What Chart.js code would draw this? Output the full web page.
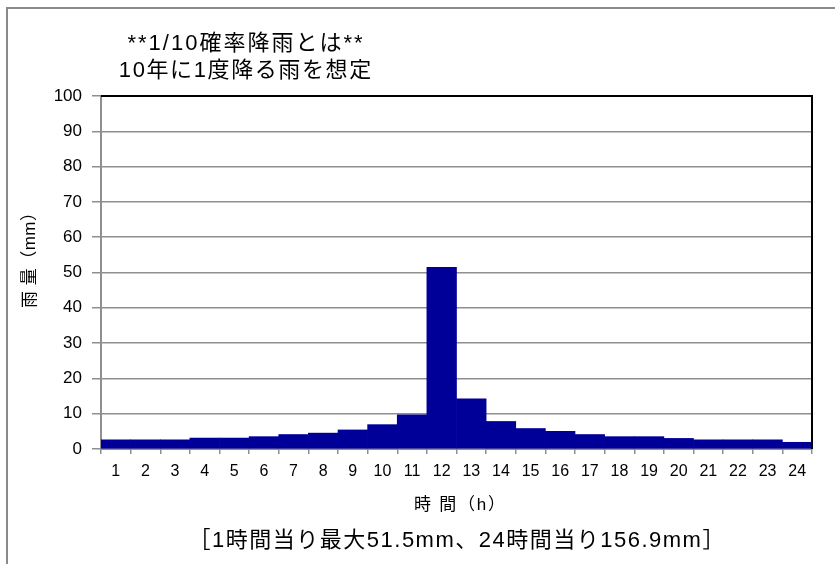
<!DOCTYPE html>
<html lang="ja">
<head>
<meta charset="utf-8">
<title>1/10確率降雨</title>
<script src="https://cdn.jsdelivr.net/npm/chart.js@4/dist/chart.umd.min.js"></script>
<style>
  html, body { margin: 0; padding: 0; background: #ffffff; }
  #wrap { width: 835px; height: 564px; }
</style>
</head>
<body>
<div id="wrap"><canvas id="rain" width="835" height="564"></canvas></div>
<script>
// Hourly rainfall of the 1-in-10-year design storm (mm per hour)
const hours = ['1','2','3','4','5','6','7','8','9','10','11','12',
               '13','14','15','16','17','18','19','20','21','22','23','24'];
const rainfall = [2.6, 2.6, 2.6, 3.1, 3.1, 3.5, 4.1, 4.5, 5.4, 6.9, 9.7, 51.5,
                  14.2, 7.8, 5.8, 5.0, 4.1, 3.5, 3.5, 3.0, 2.6, 2.6, 2.6, 1.9];
const yTicks = [0, 10, 20, 30, 40, 50, 60, 70, 80, 90, 100];

const titleLines = ['**1/10確率降雨とは**', '10年に1度降る雨を想定'];
const yTitle = '雨 量（mm）';
const xTitle = '時 間（h）';
const caption = '［1時間当り最大51.5mm、24時間当り156.9mm］';

const FONT = '"Liberation Sans", "Noto Sans CJK JP", sans-serif';
const GRID = '#8f8f8f';

// Draws text centred at (x, y) with optional extra spacing between glyphs
function spacedText(ctx, text, x, y, font, spacing) {
  ctx.font = font;
  if ('letterSpacing' in ctx) {
    ctx.letterSpacing = spacing + 'px';
    const w = ctx.measureText(text).width;
    ctx.textAlign = 'left';
    ctx.fillText(text, x - (w - spacing) / 2, y);
    ctx.letterSpacing = '0px';
    ctx.textAlign = 'center';
  } else {
    ctx.fillText(text, x, y);
  }
}

// Frame, plot border and the text blocks around the plot
const decorations = {
  id: 'decorations',
  beforeDraw(chart) {
    const ctx = chart.ctx;
    ctx.save();
    ctx.fillStyle = '#ffffff';
    ctx.fillRect(0, 0, chart.width, chart.height);
    ctx.strokeStyle = '#8a8a8a';
    ctx.lineWidth = 2;
    ctx.beginPath();
    ctx.moveTo(7, chart.height);
    ctx.lineTo(7, 8);
    ctx.lineTo(chart.width, 8);
    ctx.stroke();
    ctx.restore();
  },
  afterDraw(chart) {
    const ctx = chart.ctx;
    const a = chart.chartArea;
    const cx = (a.left + a.right) / 2;
    ctx.save();
    // black top and right edges of the plot
    ctx.strokeStyle = '#000000';
    ctx.lineWidth = 2;
    ctx.beginPath();
    ctx.moveTo(a.left, a.top);
    ctx.lineTo(a.right, a.top);
    ctx.lineTo(a.right, a.bottom);
    ctx.stroke();

    ctx.fillStyle = '#000000';
    ctx.textAlign = 'center';
    ctx.textBaseline = 'middle';

    spacedText(ctx, titleLines[0], 245, 44, '22px ' + FONT, 2);
    spacedText(ctx, titleLines[1], 245, 71, '22px ' + FONT, 1.6);

    spacedText(ctx, xTitle, cx + 3, 505, '17px ' + FONT, 1.8);

    spacedText(ctx, caption, cx, 541, '22px ' + FONT, 1.5);

    ctx.save();
    ctx.translate(30, 256);
    ctx.rotate(-Math.PI / 2);
    spacedText(ctx, yTitle, 0, 0, '17px ' + FONT, 0.5);
    ctx.restore();

    ctx.restore();
  }
};

new Chart(document.getElementById('rain'), {
  type: 'bar',
  data: {
    labels: hours,
    datasets: [{
      label: '雨量',
      data: rainfall,
      backgroundColor: '#000099',
      borderWidth: 0,
      barPercentage: 1.0,
      categoryPercentage: 1.0
    }]
  },
  options: {
    responsive: false,
    devicePixelRatio: 1,
    animation: false,
    layout: { padding: { left: 0, top: 96, right: 23, bottom: 0 } },
    plugins: {
      legend: { display: false },
      tooltip: { enabled: false },
      title: { display: false }
    },
    scales: {
      x: {
        offset: true,
        grid: {
          display: true,
          offset: true,
          drawOnChartArea: false,
          drawTicks: true,
          tickLength: 5,
          color: GRID,
          lineWidth: 1.5
        },
        border: { display: true, color: GRID, width: 2 },
        ticks: {
          color: '#000000',
          font: { family: FONT, size: 16 },
          padding: 8,
          maxRotation: 0,
          autoSkip: false
        },
        afterFit(scale) { scale.height = 564 - 449; }
      },
      y: {
        min: 0,
        max: 100,
        afterBuildTicks(scale) { scale.ticks = yTicks.map(v => ({ value: v })); },
        grid: {
          color: ctx => (ctx.tick && ctx.tick.value === 100) ? '#000000' : GRID,
          tickColor: GRID,
          lineWidth: 1.5,
          drawTicks: true,
          tickLength: 9
        },
        border: { display: true, color: GRID, width: 2 },
        ticks: {
          color: '#000000',
          font: { family: FONT, size: 17 },
          padding: 10
        },
        afterFit(scale) { scale.width = 101; }
      }
    }
  },
  plugins: [decorations]
});
</script>
</body>
</html>
